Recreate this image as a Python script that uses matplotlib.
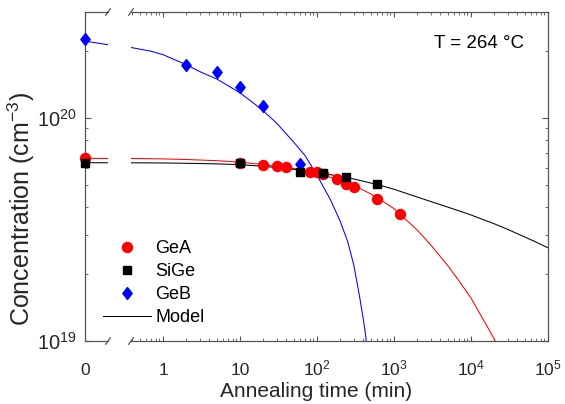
import matplotlib
matplotlib.use("Agg")
import matplotlib.pyplot as plt
from matplotlib.lines import Line2D
from matplotlib.ticker import LogLocator, NullFormatter, FixedLocator

plt.rcParams["font.family"] = ["Liberation Sans", "DejaVu Sans"]
plt.rcParams["mathtext.fontset"] = "custom"
plt.rcParams["mathtext.rm"] = "Liberation Sans"
plt.rcParams["mathtext.it"] = "Liberation Sans:italic"
plt.rcParams["mathtext.bf"] = "Liberation Sans:bold"
plt.rcParams["mathtext.default"] = "regular"

# measured points (time in min, concentration in cm^-3)
gea_t = [0, 10, 20, 30, 40, 80, 100, 120, 180, 240, 300, 600, 1200]
gea_c = [6.61e19, 6.32e19, 6.20e19, 6.13e19, 6.06e19, 5.73e19, 5.73e19,
         5.63e19, 5.36e19, 5.06e19, 4.90e19, 4.36e19, 3.73e19]
sige_t = [0, 10, 60, 120, 240, 600]
sige_c = [6.32e19, 6.30e19, 5.72e19, 5.65e19, 5.45e19, 5.09e19]
geb_t = [0, 2, 5, 10, 20, 60]
geb_c = [2.28e20, 1.73e20, 1.62e20, 1.38e20, 1.13e20, 6.26e19]

# model curves
left_t = [0, 0.1]
gea_left = [6.61e19, 6.60e19]
sige_left = [6.32e19, 6.31e19]
geb_left = [2.22e20, 2.14e20]

gea_mt = [0.38, 1, 2, 5, 10, 20, 50, 100, 200, 300, 500, 700, 1000, 2000,
          3000, 5000, 7000, 1e4, 1.4e4, 1.7e4, 2e4, 2.3e4]
gea_mc = [6.60, 6.57, 6.53, 6.45, 6.35, 6.20, 5.95, 5.66, 5.27, 5.00, 4.57,
          4.26, 3.93, 3.15, 2.70, 2.18, 1.86, 1.56, 1.27, 1.13, 1.02, 0.92]

sige_mt = [0.38, 1, 2, 5, 10, 20, 50, 100, 200, 300, 500, 700, 1000, 2000,
           3000, 5000, 7000, 1e4, 2e4, 3e4, 5e4, 7e4, 1e5]
sige_mc = [6.31, 6.30, 6.28, 6.24, 6.19, 6.09, 5.90, 5.71, 5.49, 5.34, 5.12,
           4.97, 4.80, 4.43, 4.23, 3.99, 3.84, 3.68, 3.36, 3.17, 2.93, 2.78, 2.62]

geb_mt = [0.38, 0.7, 1, 2, 3, 5, 7, 10, 15, 20, 30, 50, 70, 100, 150, 200,
          250, 300, 350, 400, 430, 460]
geb_mc = [2.08, 2.00, 1.93, 1.74, 1.62, 1.50, 1.40, 1.30, 1.17, 1.08, 0.95,
          0.78, 0.68, 0.555, 0.43, 0.345, 0.28, 0.22, 0.165, 0.125, 0.105, 0.08]

W, H = 565, 404
AX_COL = "#555555"
TXT_COL = "#262626"


def box(x0, y0, x1, y1):
    return [x0 / W, 1 - y1 / H, (x1 - x0) / W, (y1 - y0) / H]


fig = plt.figure(figsize=(W / 100, H / 100), dpi=100)
ax0 = fig.add_axes(box(85, 12, 108, 341))
ax1 = fig.add_axes(box(131, 12, 548, 341))

diamond = [(0, 1), (0.78, 0), (0, -1), (-0.78, 0), (0, 1)]
mk_gea = dict(marker="o", ms=7.2, color="#ff0000", ls="none")
mk_sige = dict(marker="s", ms=6.2, color="k", ls="none")
mk_geb = dict(marker=diamond, ms=8.6, color="#0000ff", ls="none")

# left (t = 0) segment
ax0.plot(left_t, geb_left, color="#0000ff", lw=0.75)
ax0.plot(left_t, gea_left, color="#ff0000", lw=0.75)
ax0.plot(left_t, sige_left, color="k", lw=0.75)
ax0.plot(gea_t[:1], gea_c[:1], clip_on=False, zorder=5, **mk_gea)
ax0.plot(sige_t[:1], sige_c[:1], clip_on=False, zorder=6, **mk_sige)
ax0.plot(geb_t[:1], geb_c[:1], clip_on=False, zorder=5, **mk_geb)

# log-time segment
ax1.plot(geb_mt, [c * 1e20 for c in geb_mc], color="#0000ff", lw=0.75)
ax1.plot(gea_mt, [c * 1e19 for c in gea_mc], color="#ff0000", lw=0.75)
ax1.plot(sige_mt, [c * 1e19 for c in sige_mc], color="k", lw=0.75)
ax1.plot(gea_t[1:], gea_c[1:], zorder=5, **mk_gea)
ax1.plot(sige_t[1:], sige_c[1:], zorder=6, **mk_sige)
ax1.plot(geb_t[1:], geb_c[1:], zorder=5, **mk_geb)

for ax in (ax0, ax1):
    ax.set_yscale("log")
    ax.set_ylim(1e19, 3.0e20)
    for s in ax.spines.values():
        s.set_color(AX_COL)
        s.set_linewidth(0.9)

ax0.spines["right"].set_visible(False)
ax1.spines["left"].set_visible(False)

# left axes ticks
ax0.set_xlim(0, 0.1)
ax0.set_xticks([0])
ax0.set_xticklabels(["0"])
ax0.tick_params(axis="x", length=0, pad=24.5, labelsize=12.5, labelcolor=TXT_COL)
for lb in ax0.get_xticklabels():
    lb.set_va("baseline")
ax0.yaxis.set_major_locator(FixedLocator([1e19, 1e20]))
ax0.yaxis.set_minor_locator(LogLocator(base=10, subs=range(2, 10)))
ax0.yaxis.set_minor_formatter(NullFormatter())
ax0.set_yticklabels([r"$10^{19}$", r"$10^{20}$"])
ax0.tick_params(axis="y", which="both", direction="in", left=True, right=False,
                color=AX_COL, labelsize=14.5, labelcolor=TXT_COL, pad=5.8)
ax0.tick_params(axis="y", which="major", length=4)
ax0.tick_params(axis="y", which="minor", length=2.2)

# log axes ticks
ax1.set_xscale("log")
ax1.set_xlim(10 ** (-32 / 77), 1e5)
ax1.xaxis.set_major_locator(FixedLocator([1, 10, 100, 1e3, 1e4, 1e5]))
ax1.xaxis.set_minor_locator(LogLocator(base=10, subs=range(2, 10), numticks=20))
ax1.xaxis.set_minor_formatter(NullFormatter())
ax1.set_xticklabels(["1", "10", r"$10^{2}$", r"$10^{3}$", r"$10^{4}$", r"$10^{5}$"])
ax1.tick_params(axis="x", which="both", direction="in", top=True, bottom=True,
                color=AX_COL, labelsize=12.5, labelcolor=TXT_COL, pad=24.5)
ax1.tick_params(axis="x", which="major", length=3.5)
ax1.tick_params(axis="x", which="minor", length=2)
for lb in ax1.get_xticklabels():
    lb.set_va("baseline")
ax1.yaxis.set_major_locator(FixedLocator([1e19, 1e20]))
ax1.yaxis.set_minor_locator(LogLocator(base=10, subs=range(2, 10)))
ax1.yaxis.set_minor_formatter(NullFormatter())
ax1.tick_params(axis="y", which="both", direction="in", left=False, right=True,
                labelleft=False, labelright=False, color=AX_COL)
ax1.tick_params(axis="y", which="major", length=4)
ax1.tick_params(axis="y", which="minor", length=2.2)

# axis break marks
for xb in (108, 131):
    for yb in (12, 341):
        fig.add_artist(Line2D([(xb - 2.3) / W, (xb + 2.3) / W],
                              [1 - (yb + 3.3) / H, 1 - (yb - 3.3) / H],
                              transform=fig.transFigure, color=AX_COL, lw=0.9))

fig.text(316.5 / W, 1 - 397 / H, "Annealing time (min)", ha="center",
         va="baseline", fontsize=15, color=TXT_COL)
fig.text(21 / W, 1 - 209 / H, r"Concentration (cm$^{-3}$)", rotation=90,
         ha="center", va="center", fontsize=18, color=TXT_COL)
fig.text(524 / W, 1 - 48.3 / H, "T = 264 °C", ha="right", va="baseline",
         fontsize=13.5, color="k")

handles = [Line2D([], [], **mk_gea), Line2D([], [], **mk_sige),
           Line2D([], [], **mk_geb), Line2D([], [], color="k", lw=0.75)]
fig.legend(handles, ["GeA", "SiGe", "GeB", "Model"], loc="upper left",
           bbox_to_anchor=(102.7 / W, 1 - 240 / H), bbox_transform=fig.transFigure,
           frameon=False, borderpad=0, borderaxespad=0, handlelength=2.66,
           handletextpad=0.25, labelspacing=0.34, fontsize=13)

fig.savefig("out.png", dpi=100)
